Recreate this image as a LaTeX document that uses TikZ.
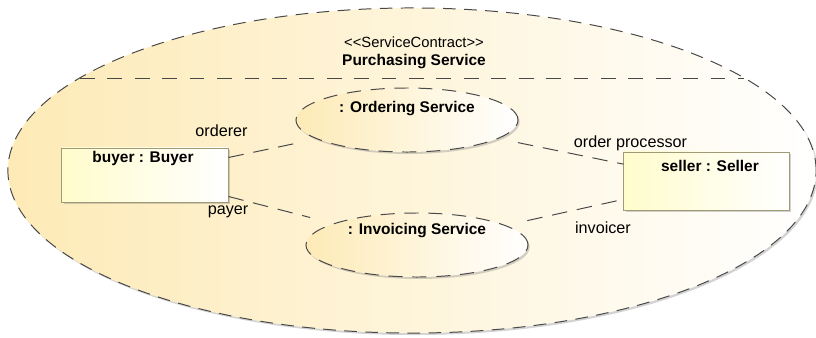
\documentclass[tikz,border=0pt]{standalone}
\usepackage{fontspec}
\setmainfont{Liberation Sans}
\usepackage{tikz}
\usetikzlibrary{shapes.geometric,shadows}
\definecolor{cream}{RGB}{253,234,182}
\definecolor{paleyellow}{RGB}{255,252,204}
\definecolor{lineink}{RGB}{72,72,72}
\definecolor{boxline}{RGB}{160,154,118}

\begin{document}
\begin{tikzpicture}[
  x=0.025cm, y=-0.025cm,
  every node/.style={font=\fontsize{11.5}{13}\selectfont, inner sep=0pt},
  softshadow/.style={drop shadow={shadow xshift=1.2pt, shadow yshift=-1.4pt, opacity=0.35}},
  contract/.style={ellipse, draw=lineink, line width=0.7pt, dash pattern=on 9pt off 6pt,
    left color=cream, right color=white, minimum width=20.2cm, minimum height=8.125cm, softshadow},
  service/.style={ellipse, draw=lineink, line width=0.7pt, dash pattern=on 10pt off 7pt,
    left color=cream, right color=white, minimum width=5.55cm, minimum height=1.6cm, softshadow},
  part/.style={rectangle, draw=boxline, line width=0.7pt, left color=paleyellow, right color=white,
    minimum width=4.15cm, minimum height=1.35cm, softshadow},
  title/.style={font=\fontsize{11}{13}\selectfont\bfseries},
  role/.style={font=\fontsize{11.5}{13}\selectfont},
  conn/.style={draw=lineink, line width=0.7pt, dash pattern=on 11pt off 7pt},
]
  \useasboundingbox (0,0) rectangle (816,337);

  % collaboration
  \node[contract] (purch) at (412,170.5) {};
  \draw[lineink, line width=0.7pt, dash pattern=on 10.5pt off 9pt] (80,78) -- (744,78);
  \node[font=\fontsize{10.5}{12}\selectfont] (stereo) at (414,42)
    {\textless{}\textless{}ServiceContract\textgreater{}\textgreater{}};
  \node[title] (pname) at (414,62) {Purchasing Service};

  % services
  \node[service] (ord) at (407,120) {};
  \node[title] (ordname) at (407,109) {: Ordering Service};
  \node[service] (inv) at (417,245) {};
  \node[title] (invname) at (417,231) {: Invoicing Service};

  % parts
  \node[part] (buyer) at (145,175) {};
  \node[title] (buyername) at (143,158) {buyer : Buyer};
  \node[part, minimum width=4.125cm, minimum height=1.45cm] (seller) at (706.5,181) {};
  \node[title] (sellername) at (710,166) {seller : Seller};

  % role bindings
  \draw[conn, shorten >=0.55cm] (buyer) -- (ord);
  \draw[conn, shorten >=0.6cm] (buyer) -- (inv);
  \draw[conn, shorten <=0.5cm] (ord) -- (seller);
  \draw[conn, shorten <=0.55cm] (inv) -- (seller);

  \node[role] (orderer) at (221.5,131) {orderer};
  \node[role] (payer) at (228,212) {payer};
  \node[role] (processor) at (630.5,143) {order processor};
  \node[role] (invoicer) at (603,228) {invoicer};
\end{tikzpicture}
\end{document}
